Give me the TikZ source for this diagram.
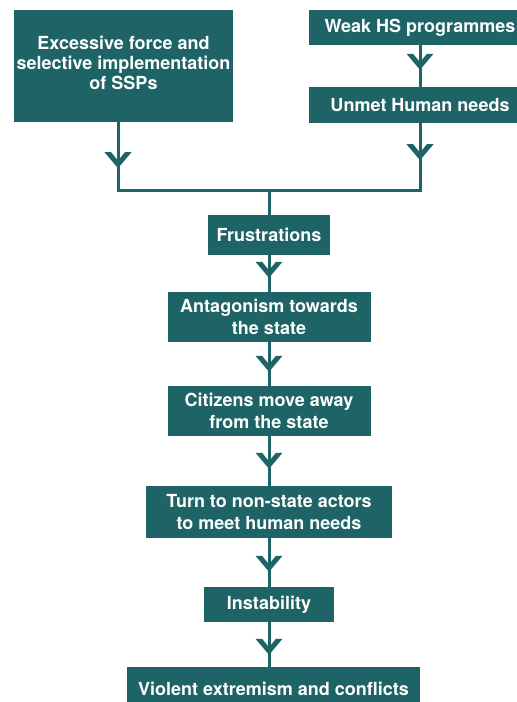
\documentclass[tikz,border=0pt]{standalone}
\usepackage{fontspec}
\setmainfont{TeX Gyre Heros}
\usetikzlibrary{decorations.markings}
\definecolor{teal1}{RGB}{30,99,101}
\tikzset{
  box/.style={fill=teal1, text=white, font=\bfseries\fontsize{18}{22}\selectfont, align=center, inner sep=0pt},
  conn/.style={draw=teal1, line width=3pt},
  chev/.style={postaction={decorate, decoration={markings, mark=at position #1 with {\fill[teal1] (0pt,0pt) -- (-16pt,13.5pt) -- (-16pt,6.9pt) -- (-7.5pt,0pt) -- (-16pt,-6.9pt) -- (-16pt,-13.5pt) -- cycle;}}}}
}
\begin{document}
\begin{tikzpicture}[x=1pt,y=-1pt]
\useasboundingbox (0,0) rectangle (517,702);
\node[box, minimum width=219pt, minimum height=112pt, font=\bfseries\fontsize{18}{20}\selectfont] (A) at (123.5,66) {Excessive force and\\selective implementation\\of SSPs\\[-14pt]\mbox{}};
\node[box, minimum width=222pt, minimum height=35pt] (W) at (420,27.5) {Weak HS programmes};
\node[box, minimum width=222pt, minimum height=36pt] (U) at (420,105) {Unmet Human needs};
\coordinate (j) at (269,190);
\node[box, minimum width=122pt, minimum height=40pt] (F) at (269,235) {Frustrations};
\node[box, minimum width=203pt, minimum height=50pt] (Ant) at (269,317) {Antagonism towards\\the state};
\node[box, minimum width=203pt, minimum height=50pt] (Cit) at (269,411) {Citizens move away\\from the state};
\node[box, minimum width=246pt, minimum height=52pt] (Turn) at (269,512) {Turn to non-state actors\\to meet human needs};
\node[box, minimum width=130pt, minimum height=35pt] (Inst) at (269,604.5) {Instability};
\node[box, minimum width=293pt, minimum height=44pt] (Viol) at (273.5,689) {Violent extremism and conflicts};
\draw[conn, chev=46pt] ([xshift=-5.5pt]A.south) |- (j);
\draw[conn, chev=-17pt] (W.south) -- (U.north);
\draw[conn, chev=37pt] (U.south) |- (j);
\draw[conn] (j) -- (F.north);
\draw[conn, chev=-14pt] (F.south) -- (Ant.north);
\draw[conn, chev=-14pt] (Ant.south) -- (Cit.north);
\draw[conn, chev=-17pt] (Cit.south) -- (Turn.north);
\draw[conn, chev=-15pt] (Turn.south) -- (Inst.north);
\draw[conn, chev=-12pt] (Inst.south) -- (Inst.south |- Viol.north);
\end{tikzpicture}
\end{document}
